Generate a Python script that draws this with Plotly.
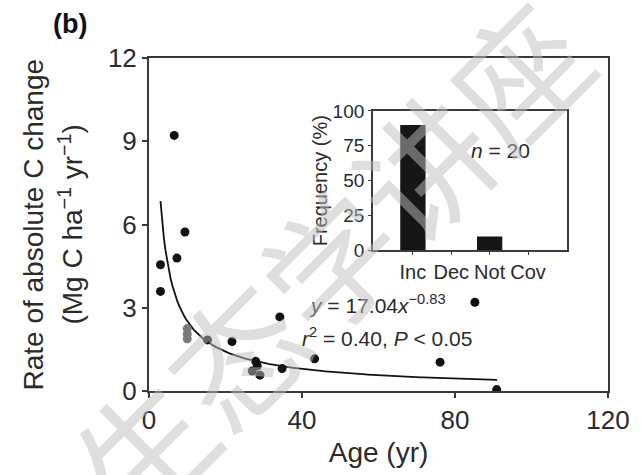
import plotly.graph_objects as go

# Stand age (yr) and rate of absolute C change (Mg C ha-1 yr-1)
age = [3.0, 3.0, 6.6, 7.3, 9.4, 15.3, 21.7, 27.0, 27.9, 28.3, 29.0, 34.2, 34.8, 43.3, 76.1, 85.2, 90.9]
rate = [4.55, 3.59, 9.21, 4.79, 5.73, 1.84, 1.78, 0.72, 1.07, 0.90, 0.57, 2.67, 0.81, 1.16, 1.04, 3.20, 0.05]
age_grey = [10.0, 10.0, 10.0]
rate_grey = [2.25, 2.05, 1.88]

# Power-law fit stated on the chart: y = 17.04 x^-0.83
fit_a, fit_b = 17.04, -0.83
fit_x = [3 + i * (91 - 3) / 200 for i in range(201)]
fit_y = [fit_a * x ** fit_b for x in fit_x]

# Inset: frequency of response direction (n = 20)
cats = ["Inc", "Dec", "Not", "Cov"]
freq = [90, 0, 10, 0]

FONT = "Liberation Sans, Arial, Helvetica, sans-serif"
INK = "#2a2a2a"
AX = "#3a3a3a"

fig = go.Figure()
fig.add_trace(go.Scatter(x=fit_x, y=fit_y, mode="lines",
                         line=dict(color="#111111", width=1.8),
                         showlegend=False, hoverinfo="skip"))
fig.add_trace(go.Scatter(x=age, y=rate, mode="markers",
                         marker=dict(color="#111111", size=9),
                         showlegend=False))
fig.add_trace(go.Scatter(x=age_grey, y=rate_grey, mode="markers",
                         marker=dict(color="#7a7a7a", size=9),
                         showlegend=False))
fig.add_trace(go.Bar(x=cats, y=freq, xaxis="x2", yaxis="y2",
                     marker=dict(color="#161616", line=dict(width=0)),
                     width=0.66, showlegend=False))

fig.update_layout(
    width=642, height=475,
    margin=dict(l=149, r=22, t=58, b=78),
    paper_bgcolor="white", plot_bgcolor="white",
    font=dict(family=FONT, color=INK),
    xaxis=dict(range=[0, 120], tickvals=[0, 40, 80, 120],
               showgrid=False, zeroline=False,
               showline=True, linecolor=AX, linewidth=2, mirror=True,
               ticks="outside", ticklen=5, tickwidth=1.5, tickcolor=AX,
               tickfont=dict(size=26, color=INK),
               title=dict(text="Age (yr)", font=dict(size=28, color=INK), standoff=8)),
    yaxis=dict(range=[0, 12], tickvals=[0, 3, 6, 9, 12],
               showgrid=False, zeroline=False,
               showline=True, linecolor=AX, linewidth=2, mirror=True,
               ticks="outside", ticklen=5, tickwidth=1.5, tickcolor=AX,
               tickfont=dict(size=26, color=INK)),
    xaxis2=dict(domain=[0.488, 0.911], anchor="y2",
                range=[-1.04, 4.02], showgrid=False, zeroline=False,
                showline=True, linecolor=AX, linewidth=1.8, mirror=True,
                ticks="outside", ticklen=3, tickcolor=AX,
                tickfont=dict(size=20, color=INK)),
    yaxis2=dict(domain=[0.422, 0.841], anchor="x2",
                range=[0, 100], tickvals=[0, 25, 50, 75, 100],
                showgrid=False, zeroline=False,
                showline=True, linecolor=AX, linewidth=1.8, mirror=True,
                ticks="outside", ticklen=3, tickcolor=AX,
                tickfont=dict(size=19, color=INK),
                title=dict(text="Frequency (%)", font=dict(size=20, color=INK), standoff=0)),
    bargap=0.3,
)

fig.add_annotation(text="<b>(b)</b>", xref="paper", yref="paper",
                   x=-101 / 471, y=1 + 52 / 339, xanchor="left", yanchor="top",
                   showarrow=False, font=dict(size=27, color="#111111"))
# Two-line y-axis title
fig.add_annotation(text="Rate of absolute C change", textangle=-90,
                   xref="paper", yref="paper", x=(30 - 149) / 471, y=0.5,
                   xanchor="center", yanchor="middle", showarrow=False,
                   font=dict(size=28, color=INK))
fig.add_annotation(text="(Mg C ha<sup>\u22121</sup> yr<sup>\u22121</sup>)", textangle=-90,
                   xref="paper", yref="paper", x=(68 - 149) / 471, y=0.5,
                   xanchor="center", yanchor="middle", showarrow=False,
                   font=dict(size=28, color=INK))
# Fit equation and statistics
fig.add_annotation(text="<i>y</i> = 17.04<i>x</i><sup>\u22120.83</sup>",
                   xref="paper", yref="paper", x=(311 - 149) / 471, y=(397 - 308) / 339,
                   xanchor="left", yanchor="middle", showarrow=False,
                   font=dict(size=21, color=INK))
fig.add_annotation(text="<i>r</i><sup>2</sup> = 0.40, <i>P</i> &lt; 0.05",
                   xref="paper", yref="paper", x=(304 - 149) / 471, y=(397 - 342) / 339,
                   xanchor="left", yanchor="middle", showarrow=False,
                   font=dict(size=21, color=INK))
fig.add_annotation(text="<i>n</i> = 20", xref="x2", yref="y2", x=2.28, y=72,
                   xanchor="center", yanchor="middle", showarrow=False,
                   font=dict(size=21, color=INK))
# Diagonal watermark
fig.add_annotation(text="生态学讲座", textangle=-45,
                   xref="paper", yref="paper", x=(332 - 149) / 471, y=(397 - 262) / 339,
                   xanchor="center", yanchor="middle", showarrow=False,
                   font=dict(size=132, color="rgba(190,190,190,0.5)",
                             family="Noto Sans CJK SC"))

fig.write_html("out.html")
